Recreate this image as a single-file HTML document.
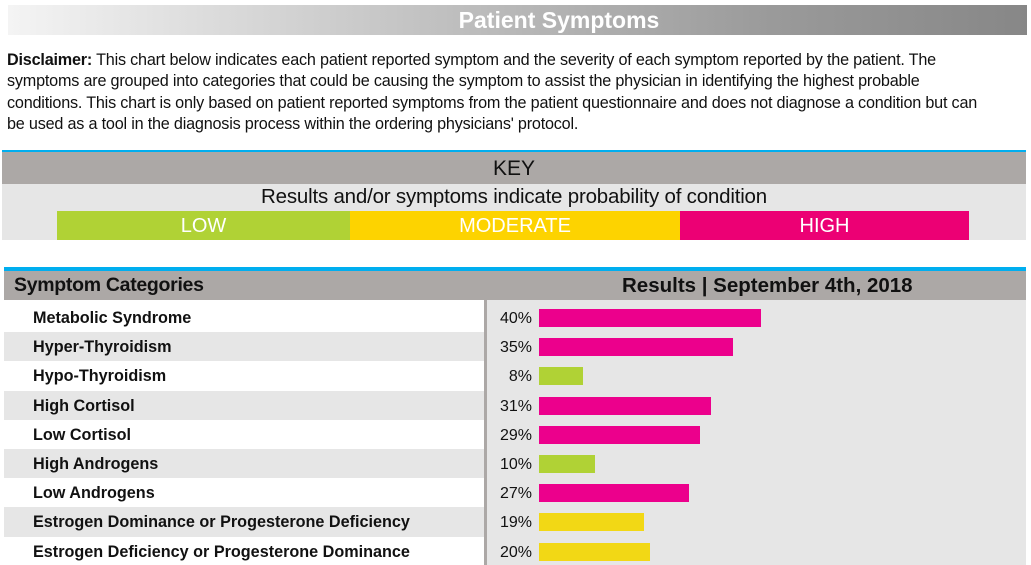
<!DOCTYPE html>
<html><head><meta charset="utf-8"><style>
body{margin:0;width:1031px;height:565px;overflow:hidden;background:#fff;font-family:"Liberation Sans",sans-serif;position:relative}
.a{position:absolute}
#title{left:8px;top:5px;width:1019px;height:30px;background:linear-gradient(to right,#f4f4f4,#bdbdbd 45%,#9a9a9a 75%,#878787);}
#title span{position:absolute;left:551px;transform:translateX(-50%);top:2px;color:#fff;font-weight:bold;font-size:23px}
#disc{left:7px;top:50px;width:1020px;font-size:16.2px;line-height:21.3px;color:#111;white-space:nowrap;letter-spacing:-0.2px}
.lbl{position:absolute;left:33px;font-weight:bold;font-size:16.2px;color:#111;white-space:nowrap}
.pct{position:absolute;font-size:16px;color:#111;text-align:right;width:40px;left:492px}
</style></head><body>
<div id="title" class="a"><span>Patient Symptoms</span></div>
<div id="disc" class="a"><b>Disclaimer:</b> This chart below indicates each patient reported symptom and the severity of each symptom reported by the patient. The<br>symptoms are grouped into categories that could be causing the symptom to assist the physician in identifying the highest probable<br>conditions. This chart is only based on patient reported symptoms from the patient questionnaire and does not diagnose a condition but can<br>be used as a tool in the diagnosis process within the ordering physicians' protocol.</div>
<div class="a" style="left:2px;top:150px;width:1024px;height:2px;background:#00aeef"></div>
<div class="a" style="left:2px;top:152px;width:1024px;height:32px;background:#aca8a6;text-align:center;font-size:21px;line-height:34px;color:#111">KEY</div>
<div class="a" style="left:2px;top:184px;width:1024px;height:56px;background:#e6e6e6"></div>
<div class="a" style="left:2px;top:185px;width:1024px;text-align:center;font-size:20.5px;color:#111;letter-spacing:-0.2px">Results and/or symptoms indicate probability of condition</div>
<div class="a" style="left:57px;top:211px;width:293px;height:29px;background:#b0d235;color:#fff;text-align:center;font-size:20px;line-height:30px">LOW</div>
<div class="a" style="left:350px;top:211px;width:330px;height:29px;background:#fdd300;color:#fff;text-align:center;font-size:20px;line-height:30px">MODERATE</div>
<div class="a" style="left:680px;top:211px;width:289px;height:29px;background:#ec0074;color:#fff;text-align:center;font-size:20px;line-height:30px">HIGH</div>
<div class="a" style="left:4px;top:267px;width:1022px;height:4px;background:#00aeef"></div>
<div class="a" style="left:4px;top:271px;width:1022px;height:29px;background:#aca8a6"></div>
<div class="a" style="left:14px;top:274px;font-size:19.5px;color:#111;font-weight:bold;letter-spacing:-0.3px">Symptom Categories</div>
<div class="a" style="left:622px;top:274px;font-size:20.5px;font-weight:bold;color:#111">Results | September 4th, 2018</div>
<div class="a" style="left:487px;top:300px;width:539px;height:265px;background:#e6e6e6"></div>
<div class="a" style="left:484px;top:300px;width:3px;height:265px;background:#aca8a6"></div>
<div id="rows"></div>
<script>
const categories=["Metabolic Syndrome","Hyper-Thyroidism","Hypo-Thyroidism","High Cortisol","Low Cortisol","High Androgens","Low Androgens","Estrogen Dominance or Progesterone Deficiency","Estrogen Deficiency or Progesterone Dominance"];
const values=[40,35,8,31,29,10,27,19,20];
const levels=["high","high","low","high","high","low","high","moderate","moderate"];
const colors={low:"#b0d235",moderate:"#f2d815",high:"#ec008c"};
const x0=539, pxPer=5.55, rowTop=303, rowH=29.2;
const xs=v=>v*pxPer;
const rows=document.getElementById('rows');
categories.forEach((c,i)=>{
  const y=rowTop+i*rowH;
  if(i%2===1){const bg=document.createElement('div');bg.className='a';
    
    
    bg.style.cssText=`left:4px;top:${y}px;width:480px;height:${rowH}px;background:#e6e6e6`;rows.appendChild(bg);}
  const l=document.createElement('div');l.className='lbl';l.textContent=c;
  
  
  l.style.top=(y+6)+'px';rows.appendChild(l);
  const p=document.createElement('div');p.className='pct';p.textContent=values[i]+'%';
  
  
  p.style.top=(y+7)+'px';rows.appendChild(p);
  const b=document.createElement('div');b.className='a';
  
  
  b.style.cssText=`left:${x0}px;top:${y+6}px;width:${xs(values[i])}px;height:18px;background:${colors[levels[i]]}`;
  rows.appendChild(b);
});
</script>
</body></html>
